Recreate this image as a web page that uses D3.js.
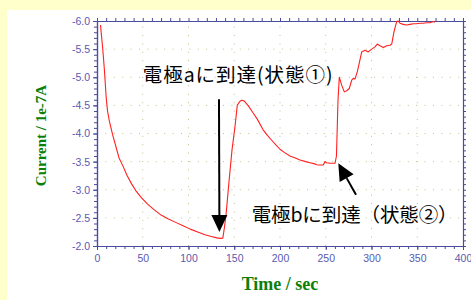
<!DOCTYPE html>
<html><head><meta charset="utf-8">
<script src="https://cdn.jsdelivr.net/npm/d3@7"></script>
<style>html,body{margin:0;padding:0;background:#ffffcc;}svg{display:block;}</style>
</head><body>
<svg id="chart" width="471" height="300"></svg>
<script>
// ---- data ----
const times = [3.8,6.2,8.0,10.0,11.5,13.5,17.2,20.8,24,28.4,33,38,43,48,55,62,70,78,86,94,102,110,118,125,131,135,137.5,139,141,144.3,147.5,150.8,153.3,156,158.1,160.7,165,170.5,175,181.4,186,190.9,196,200,205,210.9,216,221.9,228,232.8,238,240.1,243,247.3,249.2,251,254.6,258,260.1,261.7,263.4,264.8,267.4,270.3,272.9,275.7,278.4,280.1,282,284.5,287.4,289.3,292.9,296.5,300.2,303.8,306.3,309.3,312.9,316.6,320.2,322.1,324.6,327.5,329.2,331.1,334.7,338.4,342,345.7,349,353,356.5,360.3,364,367.5,369.4];
const currents = [-5.93,-5.52,-5.15,-4.65,-4.40,-4.22,-3.97,-3.76,-3.57,-3.42,-3.25,-3.10,-2.97,-2.87,-2.75,-2.65,-2.55,-2.48,-2.42,-2.36,-2.30,-2.25,-2.20,-2.17,-2.145,-2.135,-2.14,-2.30,-2.55,-3.15,-3.70,-4.12,-4.50,-4.57,-4.59,-4.58,-4.50,-4.37,-4.26,-4.07,-3.97,-3.88,-3.79,-3.72,-3.66,-3.60,-3.57,-3.53,-3.50,-3.48,-3.46,-3.445,-3.44,-3.44,-3.50,-3.48,-3.47,-3.47,-3.47,-3.60,-4.60,-5.00,-4.86,-4.74,-4.76,-4.80,-4.95,-4.98,-4.97,-5.10,-5.31,-5.45,-5.48,-5.45,-5.50,-5.54,-5.59,-5.56,-5.53,-5.56,-5.57,-5.59,-5.81,-5.99,-6.00,-5.96,-5.94,-5.93,-5.94,-5.95,-5.95,-5.96,-5.96,-5.97,-5.97,-5.99,-5.98];
const xTicks = [0,50,100,150,200,250,300,350,400];
const yTicks = [-2.0,-2.5,-3.0,-3.5,-4.0,-4.5,-5.0,-5.5,-6.0];
const xLabel = "Time / sec";
const yLabel = "Current / 1e-7A";
const annoText = ["電極aに到達(状態①)", "電極bに到達（状態②）"];
const annoTextPos = [[49.9,-4.92],[169,-2.42]];
const arrowFrom = [[133.3,-4.61],[283.1,-2.91]];
const arrowTo = [[133.8,-2.25],[263.7,-3.47]];

// ---- drawing ----
const svg = d3.select("#chart");
svg.append("rect").attr("x",7).attr("y",10).attr("width",464).attr("height",290).attr("fill","#ffffff");

const x = d3.scaleLinear().domain([0,400]).range([97,463]);
const y = d3.scaleLinear().domain([-2,-6]).range([246,21]);
const axisCol = "#4a4a9e", labCol = "#5a5ab0", gridCol = "#c2c28a";

// grid
const g = svg.append("g");
g.selectAll("line.gx").data(xTicks.slice(1,-1)).join("line")
  .attr("x1",d=>x(d)).attr("x2",d=>x(d)).attr("y1",y(-2)).attr("y2",y(-6))
  .attr("stroke",gridCol).attr("stroke-width",1).attr("stroke-dasharray","1,7.4");
g.selectAll("line.gy").data(yTicks.slice(1,-1)).join("line")
  .attr("y1",d=>y(d)).attr("y2",d=>y(d)).attr("x1",x(0)).attr("x2",x(400))
  .attr("stroke",gridCol).attr("stroke-width",1).attr("stroke-dasharray","1,7.4");

// minor ticks
const xMinor = d3.range(0,401,10);
const yMinor = d3.range(-20,-61,-1).map(d=>d/10);
function styleAxis(sel){
  sel.select(".domain").attr("stroke",axisCol).attr("stroke-width",1.2);
  sel.selectAll(".tick line").attr("stroke",axisCol);
  sel.selectAll(".tick text").attr("fill",labCol).attr("font-family","Liberation Sans, Arial, sans-serif").attr("font-size",10.5);
}
svg.append("g").attr("transform",`translate(0,${y(-2)})`)
  .call(d3.axisBottom(x).tickValues(xMinor).tickSize(3).tickFormat("").tickSizeOuter(0)).call(styleAxis);
svg.append("g").attr("transform",`translate(0,${y(-6)})`)
  .call(d3.axisTop(x).tickValues(xMinor).tickSize(3).tickFormat("").tickSizeOuter(0)).call(styleAxis);
svg.append("g").attr("transform",`translate(${x(0)},0)`)
  .call(d3.axisLeft(y).tickValues(yMinor).tickSize(3).tickFormat("").tickSizeOuter(0)).call(styleAxis);
svg.append("g").attr("transform",`translate(${x(400)},0)`)
  .call(d3.axisRight(y).tickValues(yMinor).tickSize(3).tickFormat("").tickSizeOuter(0)).call(styleAxis);
// major labelled
svg.append("g").attr("transform",`translate(0,${y(-2)})`)
  .call(d3.axisBottom(x).tickValues(xTicks).tickSize(4).tickPadding(5).tickFormat(d=>String(d)).tickSizeOuter(0)).call(styleAxis);
svg.append("g").attr("transform",`translate(${x(0)},0)`)
  .call(d3.axisLeft(y).tickValues(yTicks).tickSize(4).tickPadding(3).tickFormat(d=>d.toFixed(1)).tickSizeOuter(0)).call(styleAxis);

// curve
const data = times.map((t,i)=>[t,currents[i]]);
svg.append("path").datum(data)
  .attr("d",d3.line().x(d=>x(d[0])).y(d=>y(d[1])))
  .attr("fill","none").attr("stroke","#ff2020").attr("stroke-width",1.1).attr("stroke-linejoin","round");

// axis titles
svg.append("text").attr("x",(x(0)+x(400))/2).attr("y",290).attr("text-anchor","middle")
  .attr("font-family","Liberation Serif, Times New Roman, serif").attr("font-weight","bold")
  .attr("font-size",18).attr("fill","#0a800a").text(xLabel);
svg.append("text").attr("transform",`translate(46,${(y(-2)+y(-6))/2 + 2}) rotate(-90)`).attr("text-anchor","middle")
  .attr("font-family","Liberation Serif, Times New Roman, serif").attr("font-weight","bold")
  .attr("font-size",15).attr("fill","#0a800a").text(yLabel);

// annotations
const annoWidth = [190, 206];
annoText.forEach((t,i)=>{
  svg.append("text").attr("x",x(annoTextPos[i][0])).attr("y",y(annoTextPos[i][1]))
    .attr("font-family","Noto Sans CJK JP, sans-serif").attr("font-size",19.5).attr("font-weight",400).attr("fill","#000")
    .attr("textLength",annoWidth[i]).attr("lengthAdjust","spacing")
    .text(t);
});
arrowFrom.forEach((f,i)=>{
  const x1=x(f[0]), y1=y(f[1]), x2=x(arrowTo[i][0]), y2=y(arrowTo[i][1]);
  const ang=Math.atan2(y2-y1,x2-x1), L=17, W=8;
  const bx=x2-L*Math.cos(ang), by=y2-L*Math.sin(ang);
  svg.append("line").attr("x1",x1).attr("y1",y1).attr("x2",bx).attr("y2",by)
    .attr("stroke","#000").attr("stroke-width",2);
  const px=-Math.sin(ang)*W, py=Math.cos(ang)*W;
  svg.append("path").attr("d",`M${x2},${y2}L${bx+px},${by+py}L${bx-px},${by-py}Z`).attr("fill","#000");
});
</script>
</body></html>
